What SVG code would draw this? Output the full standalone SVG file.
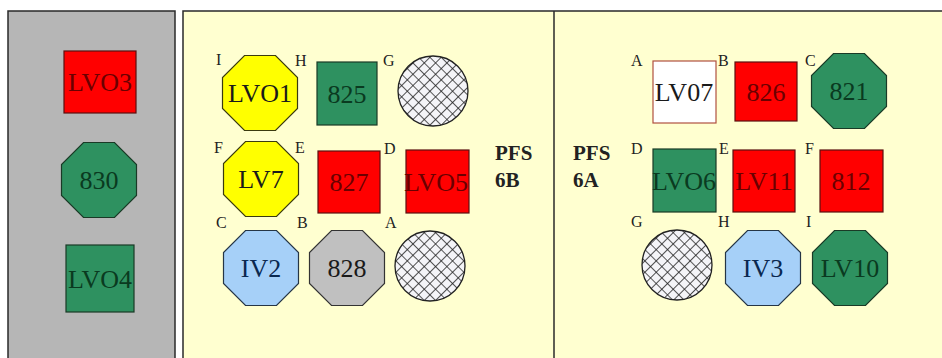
<svg xmlns="http://www.w3.org/2000/svg" xmlns:xlink="http://www.w3.org/1999/xlink" width="942" height="358" viewBox="0 0 942 358">
<style>
.panel{stroke:#2a2a2a;stroke-width:1.5}
.red{fill:#ff0000;stroke:#5a1010;stroke-width:1.2}
.green{fill:#2e9160;stroke:#1a3a26;stroke-width:1.2}
.yellow{fill:#ffff00;stroke:#3a3a10;stroke-width:1.2}
.blue{fill:#a6d0f8;stroke:#253545;stroke-width:1.2}
.gray{fill:#c0c0c0;stroke:#333;stroke-width:1.2}
.white{fill:#ffffff;stroke:#b05040;stroke-width:1.2}
.hatch{fill:url(#xh);stroke:#222;stroke-width:1.3}
.t{font-family:"Liberation Serif","Times New Roman",serif;font-size:26px;text-anchor:middle}
.tr{fill:#6a0000}
.tg{fill:#0a3a20}
.tk{fill:#1a1a1a}
.tb{fill:#0a2850}
.c{font-family:"Liberation Serif","Times New Roman",serif;font-size:16px;fill:#222}
.pfs{font-family:"Liberation Serif","Times New Roman",serif;font-size:21px;font-weight:bold;fill:#222}
</style>
<defs>
<polygon id="oct" points="-15.5,-37.5 15.5,-37.5 37.5,-15.5 37.5,15.5 15.5,37.5 -15.5,37.5 -37.5,15.5 -37.5,-15.5"/>
<pattern id="xh" width="8" height="8" patternUnits="userSpaceOnUse" patternTransform="rotate(45)">
<rect width="8" height="8" fill="#f4f4f8"/>
<path d="M0,0H8M0,0V8" stroke="#222" stroke-width="1.6"/>
</pattern>
</defs>
<rect width="942" height="358" fill="#ffffff"/>
<g id="panels">
<rect class="panel" x="8" y="11" width="167" height="360" fill="#b6b6b6"/>
<rect class="panel" x="183" y="11" width="770" height="360" fill="#ffffd0"/>
<line class="panel" x1="554" y1="11" x2="554" y2="358"/>
</g>
<g id="connectors"/>
<g id="n-lvo3"><rect class="red" x="64" y="51" width="72" height="62"/><text class="t tr" x="100" y="91">LVO3</text></g>
<g id="n-830"><use xlink:href="#oct" href="#oct" class="green" x="99" y="180"/><text class="t tg" x="99" y="189">830</text></g>
<g id="n-lvo4"><rect class="green" x="66" y="245" width="68" height="67"/><text class="t tg" x="100" y="288">LVO4</text></g>

<g id="n-lvo1"><use xlink:href="#oct" href="#oct" class="yellow" x="260" y="93"/><text class="t tk" x="260" y="102">LVO1</text><text class="c" x="216" y="65">I</text><text class="c" x="295" y="66">H</text></g>
<g id="n-825"><rect class="green" x="317" y="62" width="60" height="63"/><text class="t tg" x="347" y="103">825</text></g>
<g id="n-g6b"><circle class="hatch" cx="433" cy="91" r="35"/><text class="c" x="383" y="66">G</text></g>
<g id="n-lv7"><use xlink:href="#oct" href="#oct" class="yellow" x="261" y="179"/><text class="t tk" x="261" y="188">LV7</text><text class="c" x="214" y="153">F</text><text class="c" x="295" y="153">E</text></g>
<g id="n-827"><rect class="red" x="318" y="151" width="62" height="62"/><text class="t tr" x="349" y="191">827</text></g>
<g id="n-lvo5"><rect class="red" x="406" y="150" width="63" height="63"/><text class="t tr" x="436" y="191">LVO5</text><text class="c" x="384" y="154">D</text></g>
<g id="n-iv2"><use xlink:href="#oct" href="#oct" class="blue" x="261" y="268"/><text class="t tb" x="261" y="277">IV2</text><text class="c" x="216" y="228">C</text><text class="c" x="297" y="228">B</text></g>
<g id="n-828"><use xlink:href="#oct" href="#oct" class="gray" x="347" y="268"/><text class="t tk" x="347" y="277">828</text></g>
<g id="n-a6b"><circle class="hatch" cx="430" cy="266" r="35"/><text class="c" x="385" y="228">A</text></g>
<g id="n-pfs6b"><text class="pfs" x="495" y="160">PFS</text><text class="pfs" x="495" y="187">6B</text></g>

<g id="n-pfs6a"><text class="pfs" x="573" y="160">PFS</text><text class="pfs" x="573" y="187">6A</text></g>
<g id="n-lv07"><rect class="white" x="653" y="61" width="63" height="62"/><text class="t tk" x="684" y="101">LV07</text><text class="c" x="631" y="66">A</text></g>
<g id="n-826"><rect class="red" x="735" y="62" width="62" height="59"/><text class="t tr" x="766" y="101">826</text><text class="c" x="718" y="66">B</text></g>
<g id="n-821"><use xlink:href="#oct" href="#oct" class="green" x="849" y="91"/><text class="t tg" x="849" y="100">821</text><text class="c" x="805" y="66">C</text></g>
<g id="n-lvo6"><rect class="green" x="653" y="149" width="63" height="63"/><text class="t tg" x="684" y="190">LVO6</text><text class="c" x="631" y="154">D</text></g>
<g id="n-lv11"><rect class="red" x="733" y="150" width="62" height="62"/><text class="t tr" x="764" y="190">LV11</text><text class="c" x="719" y="154">E</text></g>
<g id="n-812"><rect class="red" x="820" y="150" width="63" height="62"/><text class="t tr" x="851" y="190">812</text><text class="c" x="805" y="154">F</text></g>
<g id="n-g6a"><circle class="hatch" cx="677" cy="265" r="35"/><text class="c" x="631" y="227">G</text></g>
<g id="n-iv3"><use xlink:href="#oct" href="#oct" class="blue" x="763" y="268"/><text class="t tb" x="763" y="277">IV3</text><text class="c" x="718" y="227">H</text></g>
<g id="n-lv10"><use xlink:href="#oct" href="#oct" class="green" x="850" y="268"/><text class="t tg" x="850" y="277">LV10</text><text class="c" x="806" y="227">I</text></g>
</svg>
